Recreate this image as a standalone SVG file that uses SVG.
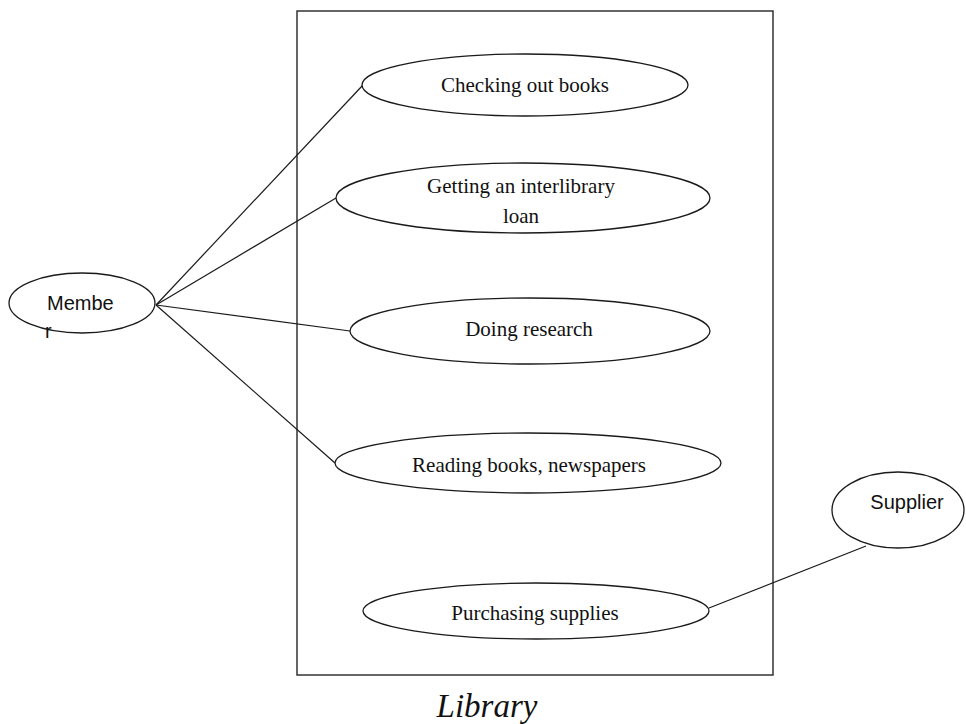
<svg xmlns="http://www.w3.org/2000/svg" width="966" height="724" viewBox="0 0 966 724">
  <style>
    .shape { fill: #ffffff; stroke: #1a1a1a; stroke-width: 1.3; }
    .frame { fill: none; stroke: #333333; stroke-width: 1.5; }
    .link { stroke: #1a1a1a; stroke-width: 1.2; fill: none; }
    .uc { font-family: "Liberation Serif", "Times New Roman", serif; font-size: 21px; fill: #111111; text-anchor: middle; }
    .actor { font-family: "Liberation Sans", Arial, sans-serif; font-size: 20px; fill: #111111; }
    .title { font-family: "Liberation Serif", "Times New Roman", serif; font-size: 33px; font-style: italic; fill: #111111; text-anchor: middle; }
  </style>
  <rect width="966" height="724" fill="#ffffff"/>

  <!-- system boundary -->
  <g id="library-boundary">
    <rect class="frame" x="297" y="11" width="476" height="664"/>
    <text class="title" x="487" y="717">Library</text>
  </g>

  <!-- associations -->
  <g id="connectors">
    <line class="link" x1="156" y1="305" x2="363" y2="85"/>
    <line class="link" x1="156" y1="305" x2="336" y2="198"/>
    <line class="link" x1="156" y1="305" x2="350" y2="331"/>
    <line class="link" x1="156" y1="305" x2="335" y2="463"/>
    <line class="link" x1="709" y1="608" x2="866" y2="546"/>
  </g>

  <g id="member">
    <ellipse class="shape" cx="82" cy="303" rx="73" ry="30"/>
    <text class="actor" x="47" y="310">Membe</text>
    <text class="actor" x="45" y="338">r</text>
  </g>

  <g id="supplier">
    <ellipse class="shape" cx="898" cy="510" rx="66" ry="38"/>
    <text class="actor" x="907" y="509" text-anchor="middle" font-size="20">Supplier</text>
  </g>

  <g id="uc-checkout">
    <ellipse class="shape" cx="525" cy="85" rx="163" ry="31"/>
    <text class="uc" x="525" y="92">Checking out books</text>
  </g>

  <g id="uc-interlibrary">
    <ellipse class="shape" cx="523" cy="198" rx="187" ry="35"/>
    <text class="uc" x="521" y="193">Getting an interlibrary</text>
    <text class="uc" x="521" y="223">loan</text>
  </g>

  <g id="uc-research">
    <ellipse class="shape" cx="530" cy="331" rx="180" ry="33"/>
    <text class="uc" x="529" y="336">Doing research</text>
  </g>

  <g id="uc-reading">
    <ellipse class="shape" cx="528" cy="463" rx="193" ry="30"/>
    <text class="uc" x="529" y="472">Reading books, newspapers</text>
  </g>

  <g id="uc-purchasing">
    <ellipse class="shape" cx="536" cy="611" rx="173" ry="28"/>
    <text class="uc" x="535" y="620">Purchasing supplies</text>
  </g>
</svg>
